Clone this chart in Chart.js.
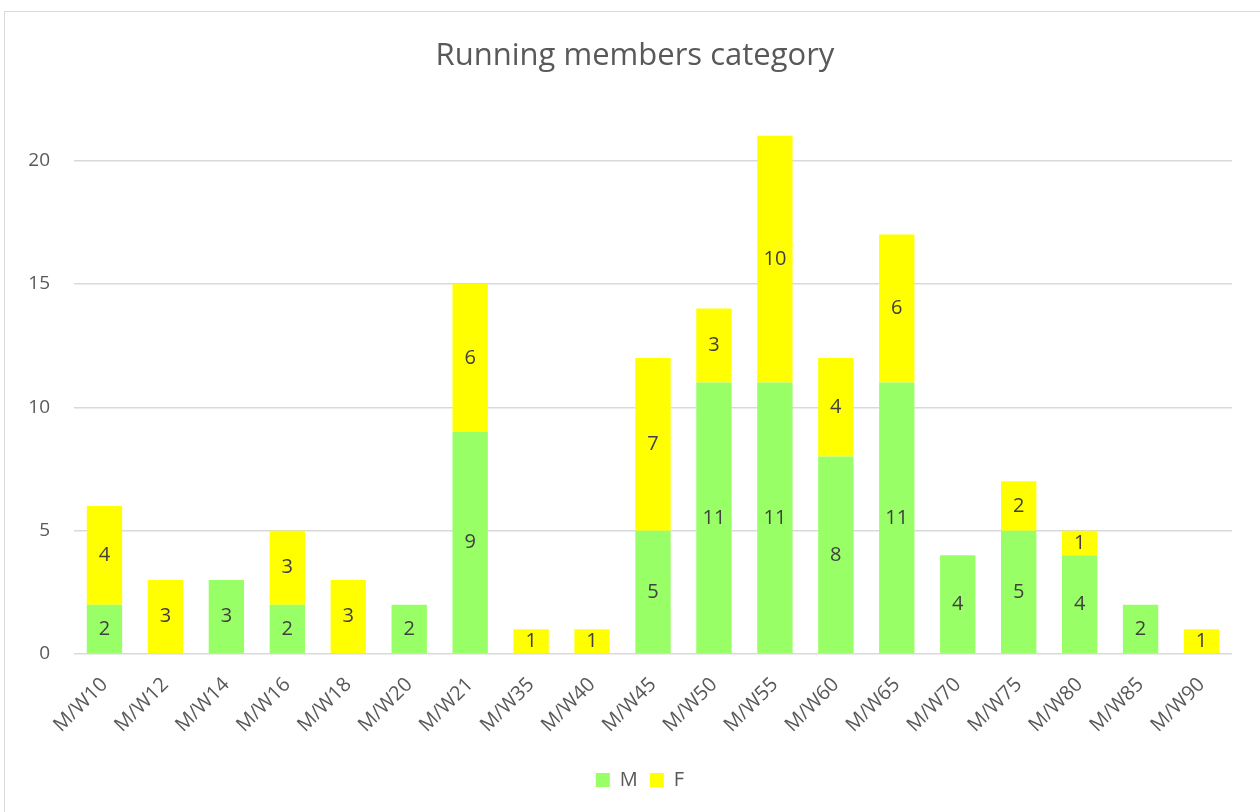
<!DOCTYPE html>
<html>
<head>
<meta charset="utf-8">
<script src="https://cdn.jsdelivr.net/npm/chart.js@4"></script>
<style>
  body { margin: 0; background: #fff; }
  #wrap { position: relative; width: 1260px; height: 812px; }
  #frame { position: absolute; left: 4px; top: 11px; right: -2px; bottom: -2px; border: 1px solid #d9d9d9; }
  canvas { position: absolute; left: 0; top: 0; }
</style>
</head>
<body>
<div id="wrap">
  <div id="frame"></div>
  <canvas id="myChart" width="1260" height="812"></canvas>
</div>
<script>
// 카테고리, 데이터
let categories = ["M/W10", "M/W12", "M/W14", "M/W16", "M/W18", "M/W20", "M/W21", "M/W35", "M/W40", "M/W45",
                  "M/W50", "M/W55", "M/W60", "M/W65", "M/W70", "M/W75", "M/W80", "M/W85", "M/W90"];
let male   = [2, 0, 3, 2, 0, 2, 9, 0, 0, 5, 11, 11, 8, 11, 4, 5, 4, 2, 0];
let female = [4, 3, 0, 3, 3, 0, 6, 1, 1, 7, 3, 10, 4, 6, 0, 2, 1, 0, 1];
let yTicks = [0, 5, 10, 15, 20];

// 막대 가운데 숫자 그리기
let barLabels = {
    id: "barLabels",
    afterDatasetsDraw(chart) {
        let ctx = chart.ctx;
        ctx.save();
        ctx.font = "20px 'Open Sans', sans-serif";
        ctx.fillStyle = "#404040";
        ctx.textAlign = "center";
        ctx.textBaseline = "middle";
        chart.data.datasets.forEach(function (ds, i) {
            chart.getDatasetMeta(i).data.forEach(function (bar, j) {
                let v = ds.data[j];
                if (!v) return;
                ctx.fillText(String(v), bar.x, (bar.y + bar.base) / 2);
            });
        });
        ctx.restore();
    }
};

// 제목, 범례를 전체 틀 가운데로 옮기기
let shiftBoxes = {
    id: "shiftBoxes",
    afterLayout(chart) {
        if (chart.titleBlock) { chart.titleBlock.left += 19; chart.titleBlock.right += 19; }
        if (chart.legend) { chart.legend.left += 24; chart.legend.right += 24; }
    }
};

let config = {
    type: "bar",
    data: {
        labels: categories,
        datasets: [
            { label: "M", data: male, backgroundColor: "#99ff66" },
            { label: "F", data: female, backgroundColor: "#ffff00" }
        ]
    },
    options: {
        responsive: false,
        animation: false,
        layout: { padding: { left: 0, right: 28, top: 0, bottom: 12 } },
        datasets: { bar: { barPercentage: 0.58, categoryPercentage: 1 } },
        plugins: {
            title: {
                display: true,
                text: "Running members category",
                color: "#595959",
                font: { family: "'Open Sans', sans-serif", size: 31, weight: "normal" },
                padding: { top: 38, bottom: 36 }
            },
            legend: {
                position: "bottom",
                labels: {
                    color: "#595959",
                    font: { family: "'Open Sans', sans-serif", size: 20 },
                    boxWidth: 14,
                    boxHeight: 14,
                    padding: 12
                }
            },
            tooltip: { enabled: false }
        },
        scales: {
            x: {
                stacked: true,
                grid: { display: false },
                border: { display: false },
                ticks: {
                    color: "#595959",
                    font: { family: "'Open Sans', sans-serif", size: 20 },
                    minRotation: 45,
                    maxRotation: 45,
                    padding: 11
                },
                afterFit(scale) { scale.height = 104; }
            },
            y: {
                stacked: true,
                min: 0,
                max: 22,
                grid: { color: "#d9d9d9", lineWidth: 1.5, drawTicks: false },
                border: { display: false },
                ticks: {
                    color: "#595959",
                    font: { family: "'Open Sans', sans-serif", size: 19 },
                    stepSize: 5,
                    padding: 24
                },
                afterBuildTicks(scale) {
                    scale.ticks = yTicks.map(function (v) { return { value: v }; });
                },
                afterFit(scale) { scale.width = 74; }
            }
        }
    },
    plugins: [barLabels, shiftBoxes]
};

new Chart(document.getElementById("myChart"), config);
</script>
</body>
</html>
